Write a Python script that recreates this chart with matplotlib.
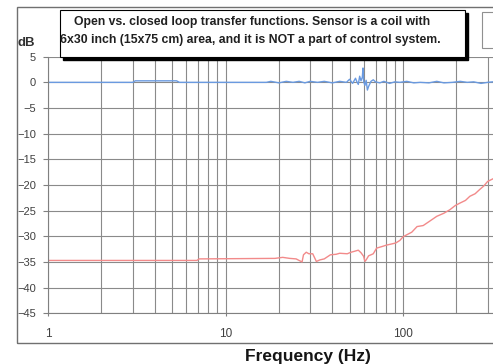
import matplotlib
matplotlib.use("Agg")
from matplotlib import pyplot as plt
from matplotlib.patches import Rectangle
from matplotlib.ticker import FixedLocator, NullFormatter, LogLocator

plt.rcParams["font.family"] = ["Liberation Sans", "DejaVu Sans"]

# closed loop (blue) - near 0 dB
blue_f = [1, 3.0, 3.1, 5.3, 5.5, 17, 18, 20, 22, 24,
          26, 28, 30, 33, 36, 40, 44, 48, 50, 52,
          54, 55, 56, 57, 58, 59, 59.5, 60, 61, 62,
          63, 64, 66, 68, 70, 74, 78, 84, 90, 96,
          105, 115, 125, 140, 155, 170, 190, 210, 230, 250,
          275, 300, 320]
blue_db = [0, 0, 0.3, 0.3, 0, 0, 0.2, -0.1, 0.2, 0,
           0.2, -0.1, 0.2, 0, 0.2, -0.1, 0.2, 0, 0.6, -0.2,
           0.8, 0.1, -0.4, 1.2, 0.3, 1.0, 2.8, 0.2, -0.6, 0.4,
           -1.5, -0.8, 0.2, 0.5, 0.1, -0.1, 0.2, -0.2, 0.1, 0,
           0.2, -0.1, 0, -0.1, 0.2, -0.1, 0, 0.2, 0, 0.1,
           -0.2, 0, 0.1]

# open loop (red)
red_f = [1, 6.9, 7.1, 19, 21, 23, 25, 27, 27.5, 28.5,
         29.5, 31, 32.5, 34, 36, 39, 42, 44, 48.5, 51,
         53.5, 56, 58, 60, 61, 62, 64, 66, 68, 71,
         76, 81, 86, 91, 96, 100, 105, 112, 120, 130,
         142, 155, 170, 184, 197, 210, 225, 238, 255, 270,
         285, 300, 321]
red_db = [-34.7, -34.7, -34.4, -34.3, -34.1, -34.3, -34.4, -35.0, -33.6, -33.1,
          -33.4, -33.4, -34.9, -34.6, -34.4, -33.6, -33.5, -33.3, -33.4, -33.1,
          -32.9, -32.7, -33.2, -33.9, -34.9, -34.6, -33.8, -33.6, -33.4, -32.3,
          -32.0, -31.7, -31.5, -31.3, -30.8, -30.1, -29.7, -29.2, -28.1, -27.9,
          -27.0, -26.1, -25.5, -24.8, -24.0, -23.5, -23.0, -22.2, -21.7, -20.9,
          -20.2, -19.3, -18.8]

y_ticks = [5, 0, -5, -10, -15, -20, -25, -30, -35, -40, -45]
x_ticks = [1, 10, 100]
x_labels = ["1", "10", "100"]

title_lines = ["Open vs. closed loop transfer functions. Sensor is a coil with",
               "6x30 inch (15x75 cm) area, and it is NOT a part of control system."]

W, H = 493, 364
fig = plt.figure(figsize=(W / 100, H / 100), dpi=100)
fig.patch.set_facecolor("white")

def fx(px):
    return px / W

def fy(py):
    return 1 - py / H

# outer chart frame (right side cut off)
fig.patches.append(Rectangle((fx(17), fy(343)), 1.2, (343 - 7) / H, transform=fig.transFigure,
                             fill=False, edgecolor="#707070", lw=1.0))

ax = fig.add_axes([fx(48), fy(313.3), (W - 48) / W, (313.3 - 56.7) / H])
ax.set_xscale("log")
ax.set_xlim(1, 10 ** ((W - 48) / 177.5))
ax.set_ylim(-45, 5)

ax.plot(blue_f, blue_db, color="#6a9ae0", lw=1.0)
ax.plot(red_f, red_db, color="#f28a8a", lw=1.0)

ax.xaxis.set_major_locator(FixedLocator(x_ticks))
ax.set_xticklabels(x_labels)
ax.xaxis.set_minor_locator(LogLocator(base=10, subs=range(2, 10)))
ax.xaxis.set_minor_formatter(NullFormatter())
ax.set_yticks(y_ticks)

ax.grid(True, which="both", axis="x", color="#8a8a8a", lw=0.8)
ax.grid(True, which="major", axis="y", color="#8a8a8a", lw=0.8)
ax.set_axisbelow(True)

for s in ["top", "right"]:
    ax.spines[s].set_visible(False)
ax.spines["left"].set_color("#808080")
ax.spines["bottom"].set_color("#808080")
ax.tick_params(axis="y", which="major", length=3.6, color="#808080", labelsize=8,
               labelcolor="#404040", pad=5)
ax.tick_params(axis="x", which="major", length=2.5, color="#808080", labelsize=8.5,
               labelcolor="#404040", pad=8)
ax.tick_params(axis="x", which="minor", length=0)

fig.text(fx(17), fy(43), "dB", fontsize=9.5, fontweight="bold", color="#303030",
         ha="left", va="center")
fig.text(fx(308), fy(357), "Frequency (Hz)", fontsize=12.5, fontweight="bold",
         color="#151515", ha="center", va="center")

# title box with drop shadow
bx0, by0, bx1, by1 = 60, 10, 465, 57
fig.patches.append(Rectangle((fx(bx0 + 3), fy(by1 + 3)), (bx1 - bx0) / W, (by1 - by0) / H,
                             transform=fig.transFigure, facecolor="black", edgecolor="black"))
fig.patches.append(Rectangle((fx(bx0), fy(by1)), (bx1 - bx0) / W, (by1 - by0) / H,
                             transform=fig.transFigure, facecolor="white", edgecolor="black", lw=0.8))
fig.text(fx(252), fy(21.5), title_lines[0], fontsize=8.8, fontweight="bold",
         color="#202020", ha="center", va="center")
fig.text(fx(250), fy(40), title_lines[1], fontsize=8.8, fontweight="bold",
         color="#202020", ha="center", va="center")

# legend box, cut off at right edge
fig.patches.append(Rectangle((fx(482), fy(48)), 0.2, (48 - 12) / H, transform=fig.transFigure,
                             facecolor="white", edgecolor="#909090", lw=0.8))

fig.savefig("out.png", dpi=100)
